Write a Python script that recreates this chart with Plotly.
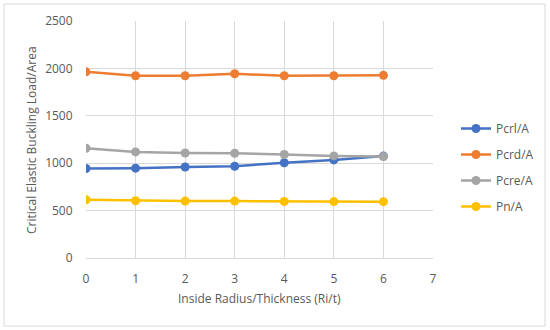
import plotly.graph_objects as go

x_vals = [0, 1, 2, 3, 4, 5, 6]
pcrl = [944, 948, 960, 968, 1005, 1035, 1075]
pcrd = [1964, 1922, 1922, 1943, 1922, 1922, 1927]
pcre = [1158, 1119, 1108, 1105, 1092, 1077, 1070]
pn = [614, 604, 600, 600, 596, 595, 594]

series = [
    ("Pcrl/A", pcrl, "#4472C4"),
    ("Pcrd/A", pcrd, "#ED7D31"),
    ("Pcre/A", pcre, "#A5A5A5"),
    ("Pn/A", pn, "#FFC000"),
]

x_title = "Inside Radius/Thickness (Ri/t)"
y_title = "Critical Elastic Buckling Load/Area"

font_family = "Open Sans, Noto Sans, sans-serif"
txt_col = "#595959"
fig = go.Figure()
for i, (name, vals, col) in enumerate(series):
    fig.add_trace(go.Scatter(
        x=x_vals, y=vals, name=name, mode="lines+markers",
        line=dict(color=col, width=2.5),
        marker=dict(color=col, size=9),
        legendgroup=f"g{i}",
    ))

W, H = 550, 330
l, r, t, b = 86, 117, 21, 72
pw, ph = W - l - r, H - t - b

def px(xp):
    return (xp - l) / pw

def py(yp):
    return (H - b - yp) / ph

fig.update_layout(
    width=W, height=H,
    margin=dict(l=l, r=r, t=t, b=b, autoexpand=False),
    paper_bgcolor="white", plot_bgcolor="white",
    font=dict(family=font_family, size=12, color=txt_col),
    showlegend=True,
    legend=dict(x=px(456), y=py(114), xanchor="left", yanchor="top",
                font=dict(size=12, color=txt_col),
                tracegroupgap=7, traceorder="grouped",
                itemwidth=30,
                bgcolor="rgba(0,0,0,0)"),
    xaxis=dict(range=[0, 7], dtick=1, tick0=0, showgrid=True, gridcolor="#D9D9D9",
               gridwidth=1, zeroline=False, showline=True, linecolor="#D9D9D9",
               ticks="outside", ticklen=10, tickcolor="rgba(0,0,0,0)",
               tickfont=dict(size=12, color=txt_col), automargin=False),
    yaxis=dict(range=[0, 2500], dtick=500, showgrid=True, gridcolor="#D9D9D9",
               zeroline=False, showline=False,
               ticks="outside", ticklen=10, tickcolor="rgba(0,0,0,0)",
               tickfont=dict(size=12, color=txt_col), automargin=False),
    annotations=[
        dict(text=x_title, xref="paper", yref="paper", x=px(259), y=py(298),
             xanchor="center", yanchor="middle", showarrow=False,
             font=dict(size=12, color=txt_col)),
        dict(text=y_title, xref="paper", yref="paper", x=px(31), y=py(140),
             xanchor="center", yanchor="middle", showarrow=False, textangle=-90,
             font=dict(size=12, color=txt_col)),
    ],
    shapes=[dict(type="rect", xref="paper", yref="paper",
                 x0=px(4), x1=px(545), y0=py(326), y1=py(4),
                 line=dict(color="#D9D9D9", width=1), layer="below")],
)

fig.write_html("out.html", config={"displayModeBar": False},
               post_script="document.body.style.margin='0';")
